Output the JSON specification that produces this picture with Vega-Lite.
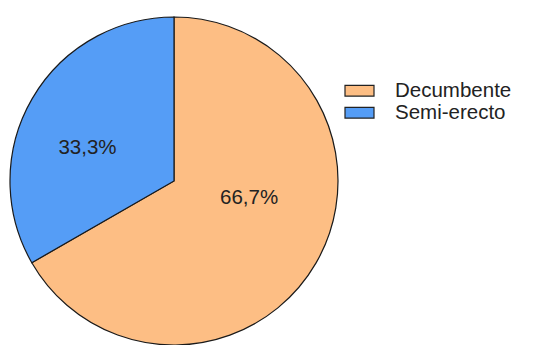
{
  "$schema": "https://vega.github.io/schema/vega-lite/v6.json",
  "width": 338,
  "height": 352,
  "padding": 5,
  "background": "white",
  "data": {"values": [
    {"Tipo": "Decumbente", "Pct": 66.7, "Label": "66,7%"},
    {"Tipo": "Semi-erecto", "Pct": 33.3, "Label": "33,3%"}
  ]},
  "transform": [
    {"stack": "Pct", "groupby": [], "sort": [{"field": "Tipo", "order": "ascending"}], "as": ["s0", "s1"]}
  ],
  "encoding": {
    "theta": {"field": "s0", "type": "quantitative", "scale": {"domain": [0, 100]}},
    "color": {
      "field": "Tipo", "type": "nominal",
      "scale": {"domain": ["Decumbente", "Semi-erecto"], "range": ["#FDBE84", "#559DF6"]},
      "legend": {
        "title": null, "orient": "none", "legendX": 343.5, "legendY": 74.75,
        "symbolType": "M-1.45,-0.53L1.45,-0.53L1.45,0.53L-1.45,0.53Z",
        "symbolSize": 400, "symbolStrokeColor": "#222", "symbolStrokeWidth": 1.2,
        "symbolFillOpacity": 1,
        "labelFont": "Liberation Sans", "labelFontSize": 20.5, "labelColor": "#222",
        "labelOffset": 24.5, "rowPadding": -1.5, "padding": 0
      }
    }
  },
  "layer": [
    {"mark": {"type": "arc", "radius": 164, "stroke": "#1a1a1a", "strokeWidth": 1.2},
     "encoding": {"theta2": {"field": "s1"}}},
    {
      "transform": [{"filter": "datum.Tipo === 'Decumbente'"}],
      "mark": {"type": "text", "radius": 77, "thetaOffset": 1.794, "font": "Liberation Sans", "fontSize": 20.5},
      "encoding": {"text": {"field": "Label"}, "color": {"value": "#222"}}
    },
    {
      "transform": [{"filter": "datum.Tipo === 'Semi-erecto'"}],
      "mark": {"type": "text", "radius": 92.6, "thetaOffset": 0.887, "font": "Liberation Sans", "fontSize": 20.5},
      "encoding": {"text": {"field": "Label"}, "color": {"value": "#222"}}
    }
  ],
  "config": {"view": {"stroke": null}}
}
